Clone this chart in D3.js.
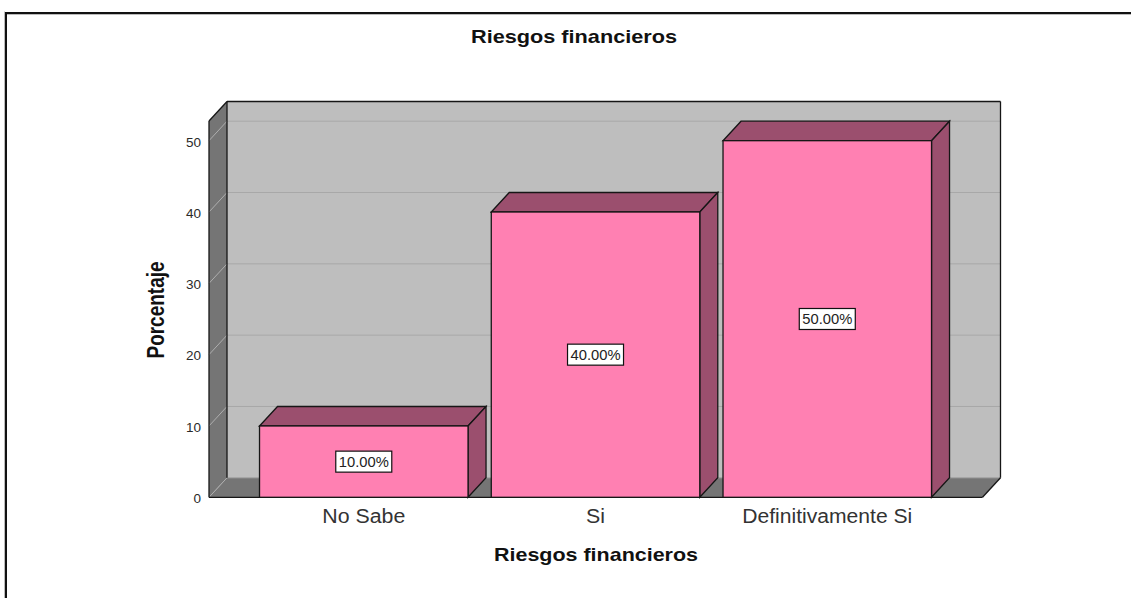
<!DOCTYPE html>
<html><head><meta charset="utf-8">
<script src="https://cdn.jsdelivr.net/npm/d3@7"></script>
<style>html,body{margin:0;padding:0;background:#fff}svg{display:block}text{font-family:"Liberation Sans",Arial,sans-serif}</style>
</head><body><svg id="c" width="1131" height="598"></svg>
<script>
const categories = ["No Sabe","Si","Definitivamente Si"];
const values = [10,40,50];
const valueLabels = ["10.00%","40.00%","50.00%"];
const yTicks = [0,10,20,30,40,50];
const chartTitle = "Riesgos financieros";
const xTitle = "Riesgos financieros";
const yTitle = "Porcentaje";

const svg = d3.select("#c");
const depthX = 18, depthY = 19.5;
const yMax = 52.76;
const y = d3.scaleLinear().domain([0,yMax]).range([497.3,121]);
const x = d3.scaleBand().domain(categories).range([247.9,943.15]).paddingInner(0.1003).paddingOuter(0.05015);
const floorL = 209, floorR = 982.5;
const pts = a => a.map(p=>p.join(",")).join(" ");
const stroke = "#161616";
const sw = 1.3;
const backTop = y(yMax)-depthY, backBottom = y(0)-depthY;
const bL = floorL+depthX, bR = floorR+depthX;
const edge = (x1,y1,x2,y2,c=stroke,w=sw)=>svg.append("line").attr("x1",x1).attr("y1",y1).attr("x2",x2).attr("y2",y2).attr("stroke",c).attr("stroke-width",w);

// outer frame (open on right and bottom)
svg.append("path").attr("d","M6,598V13H1131").attr("fill","none").attr("stroke","#111").attr("stroke-width",2);
svg.append("path").attr("d","M4.5,598V11.5M7,14.5H1131").attr("fill","none").attr("stroke","#bbb").attr("stroke-width",1);

// back wall, left wall, floor
svg.append("rect").attr("x",bL).attr("y",backTop).attr("width",bR-bL).attr("height",backBottom-backTop).attr("fill","#bebebe");
svg.append("polygon").attr("points",pts([[floorL,y(0)],[floorL,y(yMax)],[bL,backTop],[bL,backBottom]])).attr("fill","#757575");
svg.append("polygon").attr("points",pts([[floorL,y(0)],[bL,backBottom],[bR,backBottom],[floorR,y(0)]])).attr("fill","#757575");

// gridlines
yTicks.filter(d=>d>0).forEach(d=>edge(bL,y(d)-depthY,bR,y(d)-depthY,"#a8a8a8",1));
yTicks.forEach(d=>edge(floorL,y(d),bL,y(d)-depthY,"#aeaeae",1));

// structural edges
edge(bL,backBottom,bR,backBottom,"#a0a0a0",1);
edge(bL,backTop,bR,backTop);
edge(bR,backTop,bR,backBottom);
edge(bL,backTop,bL,backBottom);
edge(floorL,y(yMax),floorL,y(0));
edge(floorL,y(yMax),bL,backTop);
edge(floorL,y(0),floorR,y(0));
edge(floorR,y(0),bR,backBottom);

// y axis labels
const yAxis = d3.axisLeft(y).tickValues(yTicks).tickSize(0).tickPadding(0);
const ya = svg.append("g").attr("transform",`translate(${floorL-8},1)`).call(yAxis);
ya.select(".domain").remove();
ya.selectAll("text").attr("font-size",13.5).attr("fill","#2a2a2a").style("font-family",'"Liberation Sans",Arial,sans-serif');

// bars
const bars = svg.selectAll(".bar").data(categories).enter().append("g").attr("class","bar");
bars.each(function(c,i){
  const g = d3.select(this), x0=x(c), x1=x0+x.bandwidth(), t=y(values[i]), b=y(0);
  g.append("polygon").attr("points",pts([[x0,t],[x0+depthX,t-depthY],[x1+depthX,t-depthY],[x1,t]])).attr("fill","#9b4f6e").attr("stroke",stroke).attr("stroke-width",sw);
  g.append("polygon").attr("points",pts([[x1,t],[x1+depthX,t-depthY],[x1+depthX,b-depthY],[x1,b]])).attr("fill","#9b4f6e").attr("stroke",stroke).attr("stroke-width",sw);
  g.append("rect").attr("x",x0).attr("y",t).attr("width",x.bandwidth()).attr("height",b-t).attr("fill","#ff80b2").attr("stroke",stroke).attr("stroke-width",sw);
});
// value labels
bars.each(function(c,i){
  const g = d3.select(this), cx=x(c)+x.bandwidth()/2, cy=y(values[i]/2);
  g.append("rect").attr("x",cx-28).attr("y",cy-10.5).attr("width",56).attr("height",21).attr("fill","#fff").attr("stroke","#111").attr("stroke-width",1.2);
  g.append("text").attr("x",cx).attr("y",cy+5).attr("text-anchor","middle").attr("font-size",14).attr("textLength",50).attr("lengthAdjust","spacingAndGlyphs").attr("fill","#222").text(valueLabels[i]);
});

// x labels
const xLabelWidths = [83,19,170];
svg.selectAll(".xl").data(categories).enter().append("text").attr("class","xl")
  .attr("x",c=>x(c)+x.bandwidth()/2).attr("y",523).attr("text-anchor","middle").attr("font-size",19.5)
  .attr("textLength",(c,i)=>xLabelWidths[i]).attr("lengthAdjust","spacingAndGlyphs").attr("fill","#333").text(c=>c);

// titles
const bold = s => s.attr("text-anchor","middle").attr("font-weight","bold").attr("fill","#111").attr("lengthAdjust","spacingAndGlyphs");
svg.append("text").attr("x",574).attr("y",42.5).attr("font-size",18.5).attr("textLength",206).call(bold).text(chartTitle);
svg.append("text").attr("x",596).attr("y",561).attr("font-size",18.5).attr("textLength",204).call(bold).text(xTitle);
svg.append("text").attr("transform","translate(164,310) rotate(-90)").attr("font-size",23).attr("textLength",97).call(bold).text(yTitle);
</script></body></html>
